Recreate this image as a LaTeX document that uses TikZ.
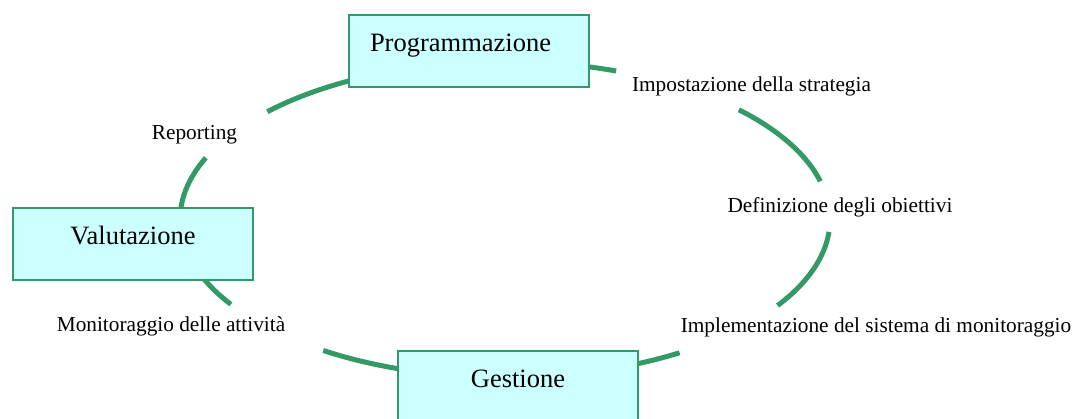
\documentclass[tikz,border=0pt]{standalone}
\usepackage{fontspec}
\setmainfont{Liberation Serif}
\usetikzlibrary{positioning}
\definecolor{ciclo}{HTML}{339966}
\definecolor{azzurro}{HTML}{CCFFFF}
\tikzset{
	x=1pt, y=1pt, % one unit is one pixel of the picture
	phase/.style={draw=ciclo, line width=2pt, fill=azzurro, anchor=north west, minimum width=240pt, text height=37pt, text depth=35pt, inner ysep=0pt, font=\fontsize{26.5}{30}\selectfont}, % the three boxes
	step label/.style={anchor=base, font=\fontsize{21.3}{25}\selectfont}, % the texts round the cycle
	arcline/.style={draw=ciclo, line width=5pt}, % the pieces of the ellipse
}

\begin{document}
\begin{tikzpicture}
	\useasboundingbox (0,0) rectangle (1074,419);
	\coordinate (c) at (505,199.5);

	% the cycle, broken where the texts stand
	\draw[arcline] (c) ++(70:325 and 158) arc[start angle=70, end angle=137, x radius=325pt, y radius=158pt];
	\draw[arcline] (c) ++(14:325 and 158) arc[start angle=14, end angle=44, x radius=325pt, y radius=158pt];
	\draw[arcline] (c) ++(-33:325 and 158) arc[start angle=-33, end angle=-4.5, x radius=325pt, y radius=158pt];
	\draw[arcline] (c) ++(236:325 and 158) arc[start angle=236, end angle=302.5, x radius=325pt, y radius=158pt];
	\draw[arcline] (c) ++(157:325 and 158) arc[start angle=157, end angle=212.5, x radius=325pt, y radius=158pt];

	\node[phase, text width=198pt, align=left, inner xsep=21pt] (prog) at (348,405) {Programmazione};
	\node[phase] (val) at (12,212) {Valutazione};
	\node[phase] (gest) at (397,69) {Gestione};

	\node[step label] (strat) at (751.5,327) {Impostazione della strategia};
	\node[step label] (obj) at (840,206) {Definizione degli obiettivi};
	\node[step label] (impl) at (876,86) {Implementazione del sistema di monitoraggio};
	\node[step label] (mon) at (171,87) {Monitoraggio delle attività};
	\node[step label] (rep) at (194.5,279) {Reporting};
\end{tikzpicture}
\end{document}
